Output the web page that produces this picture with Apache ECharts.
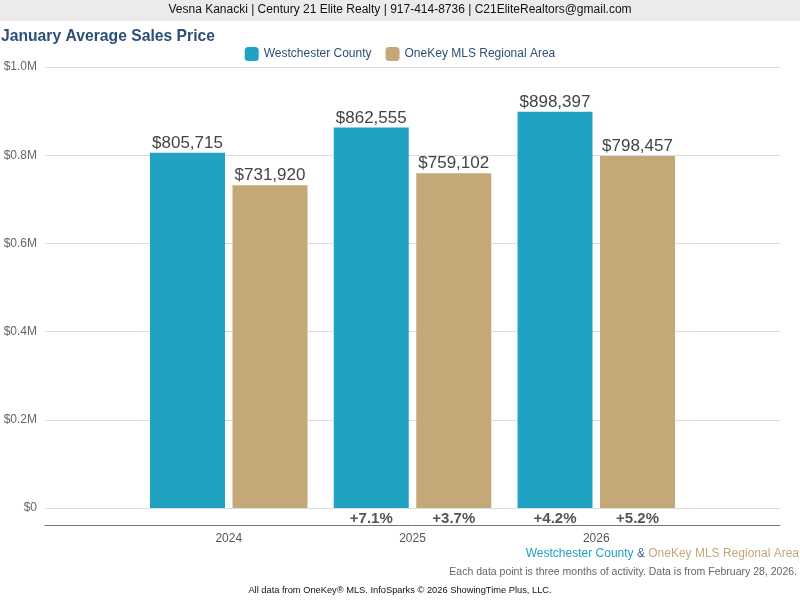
<!DOCTYPE html>
<html>
<head>
<meta charset="utf-8">
<script src="https://cdn.jsdelivr.net/npm/echarts@6/dist/echarts.min.js"></script>
<style>html,body{margin:0;padding:0;background:#fff}#c{width:800px;height:600px}</style>
</head>
<body>
<div id="c"></div>
<script>
var categories = ['', '2024', '2025', '2026', ''];
var westchester = ['-', 805715, 862555, 898397, '-'];
var onekey = ['-', 731920, 759102, 798457, '-'];
var westPct = ['', '', '+7.1%', '+4.2%', ''];
var onekeyPct = ['', '', '+3.7%', '+5.2%', ''];
var yTicks = [0, 200000, 400000, 600000, 800000, 1000000];

var BLUE = '#21a2c3', TAN = '#c4a877', NAVY = '#2c5077';
var FONT = 'Arial, "Liberation Sans", sans-serif';

function money(v) { return '$' + Number(v).toLocaleString('en-US'); }
function zeroRow(arr) { return arr.map(function (s) { return s === '' ? '-' : 0; }); }

var chart = echarts.init(document.getElementById('c'));
chart.setOption({
  animation: false,
  textStyle: { fontFamily: FONT },
  title: [
    { text: 'January Average Sales Price', left: 1, top: 29, padding: 0,
      textStyle: { fontSize: 15.7, fontWeight: 'bold', color: NAVY, fontFamily: FONT } },
    { text: '{a|Westchester County}{b| & }{c|OneKey MLS Regional Area}', right: 1, top: 548, padding: 0,
      textStyle: { fontFamily: FONT, fontWeight: 'normal', rich: {
        a: { color: BLUE, fontSize: 12, fontWeight: 'normal', fontFamily: FONT },
        b: { color: '#3d6a9a', fontSize: 12, fontWeight: 'normal', fontFamily: FONT },
        c: { color: TAN, fontSize: 12, fontWeight: 'normal', fontFamily: FONT } } } },
    { text: 'Each data point is three months of activity. Data is from February 28, 2026.', right: 3, top: 567, padding: 0,
      textStyle: { fontSize: 10.5, fontWeight: 'normal', color: '#666', fontFamily: FONT } },
    { text: 'All data from OneKey\u00ae MLS. InfoSparks \u00a9 2026 ShowingTime Plus, LLC.', left: 'center', top: 586, padding: 0,
      textStyle: { fontSize: 9.3, fontWeight: 'normal', color: '#111', fontFamily: FONT } }
  ],
  graphic: [
    { type: 'rect', left: 0, top: 0, shape: { width: 800, height: 21 }, style: { fill: '#ebebeb' }, z: -1 },
    { type: 'text', left: 'center', top: 4,
      style: { text: 'Vesna Kanacki | Century 21 Elite Realty | 917-414-8736 | C21EliteRealtors@gmail.com',
        fontSize: 12, fill: '#111', fontFamily: FONT } }
  ],
  legend: {
    data: ['Westchester County', 'OneKey MLS Regional Area'],
    top: 47, left: 'center', itemWidth: 14, itemHeight: 14, itemGap: 14, padding: 0,
    icon: 'roundRect',
    textStyle: { color: NAVY, fontSize: 12, fontFamily: FONT }
  },
  grid: { left: 45, right: 20, top: 67, bottom: 92 },
  xAxis: {
    type: 'category', data: categories, boundaryGap: false, offset: 17,
    axisLine: { onZero: false, lineStyle: { color: '#777', width: 1 } },
    axisTick: { show: false },
    axisLabel: { color: '#555', fontSize: 12, margin: 8, fontFamily: FONT },
    splitLine: { show: false }
  },
  yAxis: {
    type: 'value', min: 0, max: 1000000, interval: 200000,
    axisLine: { show: false }, axisTick: { show: false },
    axisLabel: { color: '#666', fontSize: 12, margin: 8, fontFamily: FONT,
      formatter: function (v) { return v === 0 ? '$0' : '$' + (v / 1e6).toFixed(1) + 'M'; } },
    splitLine: { lineStyle: { color: '#dcdcdc' } }
  },
  series: [
    { name: 'wPct', type: 'bar', stack: 'w', barWidth: 75, barGap: '10%', data: zeroRow(westPct),
      itemStyle: { color: 'rgba(0,0,0,0)' }, silent: true,
      label: { show: true, position: 'bottom', distance: 3, fontSize: 15, fontWeight: 'bold', color: '#555',
        fontFamily: FONT, formatter: function (p) { return westPct[p.dataIndex]; } } },
    { name: 'oPct', type: 'bar', stack: 'o', barWidth: 75, barGap: '10%', data: zeroRow(onekeyPct),
      itemStyle: { color: 'rgba(0,0,0,0)' }, silent: true,
      label: { show: true, position: 'bottom', distance: 3, fontSize: 15, fontWeight: 'bold', color: '#555',
        fontFamily: FONT, formatter: function (p) { return onekeyPct[p.dataIndex]; } } },
    { name: 'Westchester County', type: 'bar', stack: 'w', barWidth: 75, barGap: '10%', data: westchester,
      itemStyle: { color: BLUE },
      label: { show: true, position: 'top', distance: 1, fontSize: 17, color: '#444', fontFamily: FONT,
        formatter: function (p) { return money(p.value); } } },
    { name: 'OneKey MLS Regional Area', type: 'bar', stack: 'o', barWidth: 75, barGap: '10%', data: onekey,
      itemStyle: { color: TAN },
      label: { show: true, position: 'top', distance: 1, fontSize: 17, color: '#444', fontFamily: FONT,
        formatter: function (p) { return money(p.value); } } }
  ]
});
</script>
</body>
</html>
